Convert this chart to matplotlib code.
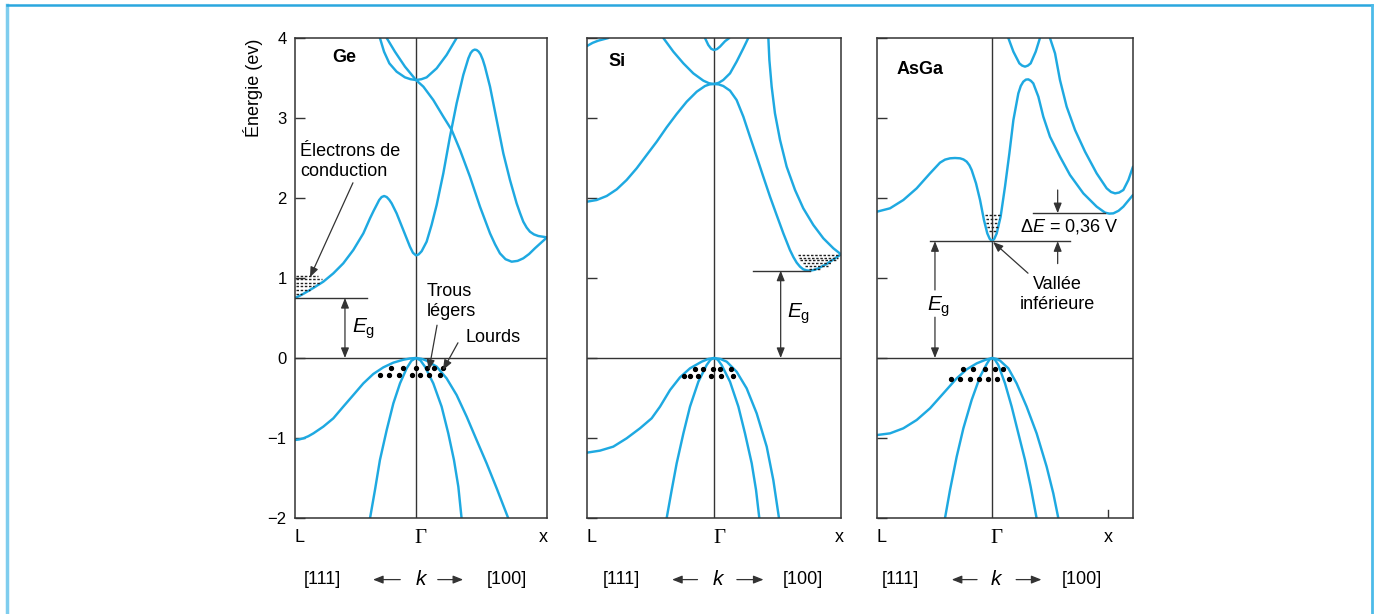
import matplotlib.pyplot as plt
from matplotlib.lines import Line2D

plt.rcParams['font.family'] = ['Liberation Sans', 'DejaVu Sans']
plt.rcParams['mathtext.fontset'] = 'custom'
plt.rcParams['mathtext.rm'] = 'Liberation Sans'
plt.rcParams['mathtext.it'] = 'Liberation Sans:italic'

BLUE = '#1ea9e1'
INK = '#333333'

# k axis : L = -1, Gamma = 0, X at the right ; E in eV

# ---------------- Ge ----------------
ge_cond_1 = [(-1.0, 0.75), (-0.965, 0.775), (-0.931, 0.802), (-0.890, 0.838), (-0.848, 0.876),
             (-0.766, 0.954), (-0.683, 1.058), (-0.601, 1.183), (-0.518, 1.350), (-0.435, 1.558),
             (-0.380, 1.746), (-0.350, 1.840), (-0.325, 1.913), (-0.304, 1.975), (-0.284, 2.012),
             (-0.263, 2.025), (-0.242, 2.012), (-0.221, 1.978), (-0.201, 1.933), (-0.160, 1.808),
             (-0.105, 1.600), (-0.050, 1.392), (-0.025, 1.315), (0.0, 1.283), (0.022, 1.295),
             (0.047, 1.335), (0.088, 1.454), (0.129, 1.663), (0.171, 1.913), (0.226, 2.308),
             (0.281, 2.767), (0.336, 3.183), (0.391, 3.538), (0.433, 3.746), (0.452, 3.812),
             (0.468, 3.842), (0.485, 3.855), (0.501, 3.850), (0.518, 3.830), (0.534, 3.795),
             (0.552, 3.730), (0.570, 3.642), (0.612, 3.392), (0.667, 2.975), (0.722, 2.558),
             (0.777, 2.225), (0.832, 1.933), (0.860, 1.812), (0.887, 1.704), (0.915, 1.630),
             (0.942, 1.579), (0.975, 1.545), (1.011, 1.525), (1.083, 1.508)]
ge_cond_2 = [(-0.242, 4.0), (-0.174, 3.829), (-0.091, 3.642), (0.0, 3.475), (0.061, 3.392),
             (0.143, 3.225), (0.226, 3.017), (0.295, 2.850), (0.364, 2.600), (0.446, 2.267),
             (0.529, 1.892), (0.612, 1.558), (0.654, 1.420), (0.694, 1.308), (0.740, 1.235),
             (0.791, 1.204), (0.840, 1.214), (0.887, 1.246), (0.935, 1.300), (0.983, 1.371),
             (1.083, 1.508)]
ge_cond_3 = [(-0.298, 4.0), (-0.264, 3.829), (-0.220, 3.683), (-0.160, 3.579), (-0.091, 3.508),
             (-0.045, 3.485), (0.0, 3.475), (0.045, 3.485), (0.088, 3.508), (0.171, 3.621),
             (0.253, 3.788), (0.336, 4.0)]
ge_val_heavy = [(-1.0, -1.025), (-0.965, -1.018), (-0.931, -1.004), (-0.890, -0.978), (-0.848, -0.942),
                (-0.766, -0.858), (-0.683, -0.754), (-0.601, -0.608), (-0.518, -0.463), (-0.435, -0.317),
                (-0.353, -0.200), (-0.270, -0.117), (-0.187, -0.058), (-0.105, -0.022), (-0.050, -0.006),
                (0.0, 0.0), (0.045, -0.010), (0.088, -0.033), (0.171, -0.108), (0.253, -0.254),
                (0.336, -0.463), (0.419, -0.733), (0.501, -1.025), (0.584, -1.317), (0.667, -1.629),
                (0.763, -2.004)]
ge_val_light = [(-0.380, -2.004), (-0.339, -1.650), (-0.298, -1.275), (-0.242, -0.900), (-0.187, -0.567),
                (-0.132, -0.317), (-0.077, -0.129), (-0.038, -0.035), (0.0, 0.0), (0.037, -0.030),
                (0.074, -0.108), (0.143, -0.317), (0.212, -0.608), (0.267, -0.942), (0.314, -1.275),
                (0.350, -1.608), (0.377, -2.004)]
ge_holes_k = [-0.21, -0.11, 0.0, 0.09, 0.15, 0.22, -0.298, -0.220, -0.138, -0.036, 0.033, 0.110, 0.198]
ge_holes_e = [-0.13] * 6 + [-0.215] * 7
ge_electrons = [(1.03, -0.99, -0.81), (0.985, -0.99, -0.78), (0.94, -0.99, -0.79), (0.895, -0.99, -0.84),
                (0.85, -0.99, -0.88), (0.805, -0.99, -0.94)]
ge_gap = 0.75

# ---------------- Si ----------------
si_cond_1 = [(-1.0, 3.9), (-0.955, 3.94), (-0.911, 3.967), (-0.832, 4.0)]
si_cond_2 = [(-1.0, 1.954), (-0.924, 1.975), (-0.845, 2.025), (-0.766, 2.108), (-0.688, 2.225),
             (-0.609, 2.371), (-0.530, 2.538), (-0.451, 2.704), (-0.373, 2.883), (-0.294, 3.050),
             (-0.215, 3.204), (-0.136, 3.329), (-0.071, 3.400), (-0.035, 3.420), (0.0, 3.425),
             (0.036, 3.420), (0.073, 3.400), (0.126, 3.342), (0.178, 3.225), (0.231, 3.017),
             (0.283, 2.767), (0.336, 2.517), (0.388, 2.267), (0.441, 2.017), (0.493, 1.788),
             (0.546, 1.558), (0.598, 1.350), (0.625, 1.262), (0.651, 1.192), (0.677, 1.142),
             (0.703, 1.108), (0.730, 1.095), (0.756, 1.092), (0.790, 1.102), (0.822, 1.121),
             (0.887, 1.175), (0.953, 1.246), (1.0, 1.296)]
si_cond_3 = [(-0.399, 4.0), (-0.320, 3.829), (-0.241, 3.683), (-0.163, 3.558), (-0.084, 3.467),
             (-0.040, 3.435), (0.0, 3.425), (0.037, 3.440), (0.073, 3.475), (0.126, 3.558),
             (0.178, 3.704), (0.231, 3.871), (0.270, 4.0)]
si_cond_4 = [(-0.071, 4.0), (-0.045, 3.913), (-0.022, 3.865), (0.0, 3.850), (0.024, 3.862),
             (0.047, 3.892), (0.087, 3.960), (0.121, 4.0)]
si_cond_5 = [(0.428, 4.0), (0.436, 3.725), (0.454, 3.392), (0.480, 3.058), (0.520, 2.725),
             (0.572, 2.392), (0.638, 2.100), (0.703, 1.871), (0.782, 1.663), (0.861, 1.496),
             (0.940, 1.371), (1.0, 1.296)]
si_val_heavy = [(-1.0, -1.183), (-0.898, -1.158), (-0.793, -1.108), (-0.688, -1.004), (-0.583, -0.879),
                (-0.491, -0.754), (-0.425, -0.608), (-0.346, -0.400), (-0.268, -0.242), (-0.189, -0.129),
                (-0.097, -0.046), (-0.045, -0.012), (0.0, 0.0), (0.050, -0.012), (0.100, -0.046),
                (0.178, -0.171), (0.257, -0.379), (0.336, -0.692), (0.415, -1.108), (0.467, -1.525),
                (0.512, -2.004)]
si_val_light = [(-0.373, -2.004), (-0.333, -1.650), (-0.294, -1.317), (-0.241, -0.942), (-0.189, -0.608),
                (-0.123, -0.296), (-0.058, -0.088), (-0.028, -0.022), (0.0, 0.0), (0.030, -0.022),
                (0.060, -0.088), (0.126, -0.296), (0.192, -0.608), (0.244, -0.942), (0.297, -1.317),
                (0.331, -1.650), (0.357, -2.004)]
si_holes_k = [-0.150, -0.084, -0.010, 0.047, 0.131, -0.236, -0.189, -0.123, -0.026, 0.052, 0.152]
si_holes_e = [-0.138] * 5 + [-0.221] * 6
si_electrons = [(1.29, 0.66, 0.99), (1.255, 0.67, 0.98), (1.22, 0.68, 0.96), (1.185, 0.70, 0.93),
                (1.15, 0.72, 0.90), (1.115, 0.75, 0.84)]
si_gap = 1.092

# ---------------- AsGa ----------------
as_cond_1 = [(-1.0, 1.829), (-0.887, 1.871), (-0.771, 1.975), (-0.655, 2.121), (-0.539, 2.308),
             (-0.452, 2.442), (-0.408, 2.480), (-0.365, 2.496), (-0.322, 2.500), (-0.278, 2.496),
             (-0.248, 2.482), (-0.220, 2.454), (-0.197, 2.410), (-0.177, 2.350), (-0.139, 2.183),
             (-0.104, 1.975), (-0.070, 1.725), (-0.041, 1.558), (-0.020, 1.490), (0.0, 1.46),
             (0.020, 1.490), (0.041, 1.558), (0.075, 1.767), (0.113, 2.142), (0.151, 2.558),
             (0.186, 2.975), (0.229, 3.308), (0.250, 3.400), (0.272, 3.454), (0.295, 3.480),
             (0.316, 3.483), (0.338, 3.465), (0.359, 3.433), (0.403, 3.267), (0.446, 3.017),
             (0.504, 2.767), (0.591, 2.517), (0.678, 2.288), (0.794, 2.058), (0.910, 1.892),
             (0.983, 1.817), (1.020, 1.805), (1.055, 1.808), (1.100, 1.840), (1.142, 1.892),
             (1.226, 2.038)]
as_cond_2 = [(0.142, 4.0), (0.186, 3.829), (0.238, 3.683), (0.262, 3.655), (0.287, 3.642),
             (0.312, 3.655), (0.336, 3.683), (0.380, 3.829), (0.417, 4.0)]
as_cond_3 = [(0.504, 4.0), (0.548, 3.808), (0.591, 3.475), (0.649, 3.142), (0.722, 2.850),
             (0.809, 2.579), (0.910, 2.308), (0.997, 2.121), (1.035, 2.075), (1.070, 2.058),
             (1.105, 2.068), (1.142, 2.100), (1.186, 2.225), (1.226, 2.392)]
as_val_heavy = [(-1.0, -0.963), (-0.887, -0.942), (-0.771, -0.879), (-0.655, -0.775), (-0.539, -0.629),
                (-0.423, -0.442), (-0.307, -0.254), (-0.220, -0.142), (-0.133, -0.067), (-0.061, -0.025),
                (0.0, 0.0), (0.035, -0.010), (0.070, -0.033), (0.142, -0.129), (0.214, -0.317),
                (0.301, -0.608), (0.388, -0.942), (0.475, -1.358), (0.533, -1.692), (0.577, -2.004)]
as_val_light = [(-0.409, -2.004), (-0.365, -1.650), (-0.307, -1.233), (-0.249, -0.879), (-0.177, -0.525),
                (-0.104, -0.233), (-0.046, -0.075), (-0.022, -0.020), (0.0, 0.0), (0.027, -0.025),
                (0.055, -0.088), (0.113, -0.317), (0.171, -0.608), (0.229, -0.942), (0.287, -1.275),
                (0.336, -1.608), (0.388, -2.004)]
as_holes_k = [-0.249, -0.162, -0.061, 0.026, 0.099, -0.359, -0.278, -0.191, -0.110, -0.032, 0.041, 0.151]
as_holes_e = [-0.142] * 5 + [-0.267] * 7
as_electrons = [(1.79, -0.06, 0.07), (1.74, -0.055, 0.065), (1.69, -0.05, 0.055), (1.64, -0.04, 0.05),
                (1.59, -0.03, 0.04)]
as_gap = 1.46
as_side_valley = 1.81

e_ticks = [-2, -1, 0, 1, 2, 3, 4]


def arrow(ax, tip, tail, style='-|>'):
    ax.annotate('', xy=tip, xytext=tail, annotation_clip=False,
                arrowprops=dict(arrowstyle=style + ',head_length=0.5,head_width=0.2',
                                color=INK, lw=0.9, mutation_scale=12, shrinkA=0, shrinkB=0))


def setup(ax, kmax, name, name_pos, k_text):
    ax.set_xlim(-1, kmax)
    ax.set_ylim(-2, 4)
    ax.set_xticks([])
    ax.set_yticks(e_ticks)
    ax.tick_params(axis='y', direction='in', length=7, width=1, color=INK, pad=6, labelsize=12)
    for s in ax.spines.values():
        s.set_color(INK)
        s.set_linewidth(1.1)
    ax.axhline(0, color=INK, lw=1)
    ax.axvline(0, color=INK, lw=1)
    ax.text(name_pos[0], name_pos[1], name, fontsize=13, fontweight='bold', va='center')
    # bottom labels
    kw = dict(fontsize=13, ha='center', va='center', clip_on=False)
    ax.text(-1.0, -2.24, 'L', ha='left', va='center', fontsize=13, clip_on=False)
    ax.text(0.04, -2.26, 'Γ', family=['Liberation Serif'], **dict(kw, fontsize=15))
    ax.text(k_text['x'], -2.24, 'x', **kw)
    ax.text(k_text['b111'], -2.77, '[111]', **kw)
    ax.text(k_text['b100'], -2.77, '[100]', **kw)
    ax.text(k_text['k'], -2.77, '$k$', **dict(kw, fontsize=15))
    arrow(ax, (k_text['la'][0], -2.77), (k_text['la'][1], -2.77))
    arrow(ax, (k_text['ra'][1], -2.77), (k_text['ra'][0], -2.77))


def bands(ax, curves, holes_k, holes_e, electrons):
    for c in curves:
        ks, es = zip(*c)
        ax.plot(ks, es, color=BLUE, lw=1.75, solid_joinstyle='round', solid_capstyle='round')
    ax.plot(holes_k, holes_e, 'o', color='black', ms=2.8, ls='none')
    for e, k0, k1 in electrons:
        ax.plot([k0, k1], [e, e], color='#222222', lw=1.0, dashes=(1.8, 1.2))


fig = plt.figure(figsize=(13.76, 6.14), dpi=100)

# frame
fig.add_artist(Line2D([7 / 1376, 7 / 1376], [0, 1 - 5 / 614], color='#7fcdee', lw=2.5))
fig.add_artist(Line2D([7 / 1376, 1372 / 1376], [1 - 5 / 614, 1 - 5 / 614], color='#2aa7de', lw=1.8))
fig.add_artist(Line2D([1372 / 1376, 1372 / 1376], [0, 1 - 5 / 614], color='#4cbbe9', lw=2))

ax_ge = fig.add_axes([295 / 1376, 96 / 614, 252 / 1376, 480 / 614])
ax_si = fig.add_axes([587 / 1376, 96 / 614, 254 / 1376, 480 / 614])
ax_as = fig.add_axes([877 / 1376, 96 / 614, 256 / 1376, 480 / 614])

# Ge
setup(ax_ge, 1.083, 'Ge', (-0.69, 3.75),
      dict(x=1.05, b111=-0.77, b100=0.75, k=0.05, la=(-0.355, -0.13), ra=(0.18, 0.39)))
ax_ge.set_yticklabels([str(v).replace('-', '\u2212') for v in e_ticks])
bands(ax_ge, [ge_cond_1, ge_cond_2, ge_cond_3, ge_val_heavy, ge_val_light],
      ge_holes_k, ge_holes_e, ge_electrons)
ax_ge.plot([-1, -0.405], [ge_gap, ge_gap], color=INK, lw=1)
arrow(ax_ge, (-0.587, ge_gap), (-0.587, 0), '<|-|>')
ax_ge.text(-0.53, 0.37, r'$E_\mathrm{g}$', fontsize=15, va='center')
ax_ge.text(-0.96, 2.46, 'Électrons de\nconduction', fontsize=13, va='center', linespacing=1.25)
arrow(ax_ge, (-0.876, 1.01), (-0.521, 2.19))
ax_ge.text(0.09, 0.71, 'Trous\nlégers', fontsize=13, va='center', linespacing=1.25)
arrow(ax_ge, (0.107, -0.15), (0.174, 0.41))
ax_ge.text(0.41, 0.25, 'Lourds', fontsize=13, va='center')
arrow(ax_ge, (0.223, -0.15), (0.347, 0.19))
fig.text(253 / 1376, 1 - 88 / 614, 'Énergie (ev)', rotation=90, ha='center', va='center', fontsize=13)

# Si
setup(ax_si, 1.0, 'Si', (-0.835, 3.71),
      dict(x=0.99, b111=-0.73, b100=0.70, k=0.04, la=(-0.33, -0.13), ra=(0.18, 0.39)))
ax_si.set_yticklabels([])
bands(ax_si, [si_cond_1, si_cond_2, si_cond_3, si_cond_4, si_cond_5, si_val_heavy, si_val_light],
      si_holes_k, si_holes_e, si_electrons)
ax_si.plot([0.304, 0.756], [si_gap, si_gap], color=INK, lw=1)
arrow(ax_si, (0.525, si_gap), (0.525, 0), '<|-|>')
ax_si.text(0.575, 0.55, r'$E_\mathrm{g}$', fontsize=15, va='center')

# AsGa
setup(ax_as, 1.226, 'AsGa', (-0.826, 3.6),
      dict(x=1.009, b111=-0.80, b100=0.78, k=0.04, la=(-0.35, -0.13), ra=(0.21, 0.43)))
ax_as.set_yticklabels([])
ax_as.plot([1.009, 1.009], [-2, -1.9], color=INK, lw=1)
bands(ax_as, [as_cond_1, as_cond_2, as_cond_3, as_val_heavy, as_val_light],
      as_holes_k, as_holes_e, as_electrons)
ax_as.plot([-0.539, 0.678], [as_gap, as_gap], color=INK, lw=1)
ax_as.plot([0.354, 0.983], [as_side_valley, as_side_valley], color=INK, lw=1)
arrow(ax_as, (0.571, as_side_valley), (0.571, 2.10))
arrow(ax_as, (0.571, as_gap), (0.571, 1.18))
ax_as.text(0.243, 1.64, 'Δ$E$ = 0,36 V', fontsize=13, va='center')
ax_as.text(0.565, 0.79, 'Vallée\ninférieure', fontsize=13, ha='center', va='center', linespacing=1.25)
arrow(ax_as, (0.009, 1.45), (0.313, 1.06))
arrow(ax_as, (-0.496, as_gap), (-0.496, 0.85))
arrow(ax_as, (-0.496, 0), (-0.496, 0.51))
ax_as.text(-0.565, 0.64, r'$E_\mathrm{g}$', fontsize=15, va='center')

fig.savefig('out.png', dpi=100)
